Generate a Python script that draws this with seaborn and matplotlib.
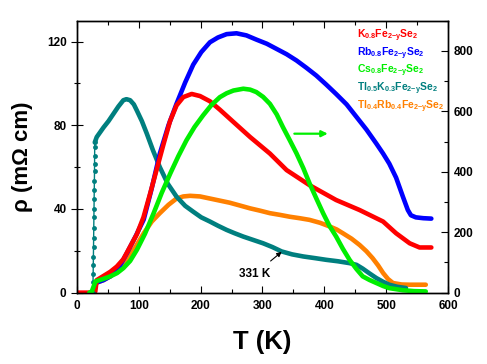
import matplotlib
matplotlib.use("Agg")
import numpy as np
import pandas as pd
import matplotlib.pyplot as plt
import seaborn as sns
from matplotlib.ticker import MultipleLocator

# values (left axis: mOhm cm, green Cs sample on right axis)
T_k = [0, 20, 29.6, 32, 43, 54, 64.5, 75, 86, 97, 107.5, 118, 129, 140, 150.5, 161, 172,
       185.5, 199, 215, 231, 253, 280, 312, 339, 376, 419, 457, 495, 516, 538, 554, 573]
rho_k = [0, 0, 0.5, 6, 8, 10, 12.5, 16, 22, 28, 36, 47, 59, 71, 82, 89.5, 93.5,
         95, 94, 91.5, 87.5, 81.6, 74.4, 66.5, 58.6, 51.4, 44.3, 39.5, 34, 28.4, 23.6,
         21.6, 21.6]

T_rb = [28, 30, 43, 54, 65, 81, 95, 108, 121, 134, 148, 161, 175, 188, 201, 215, 228,
        242, 258, 274, 290, 307, 323, 339, 355, 371, 387, 403, 419, 436, 452, 468, 484,
        495, 505, 516, 527, 535, 540, 548, 560, 573]
rho_rb = [0, 4.6, 6, 7.8, 10.5, 19, 27, 35, 50, 66.5, 80, 90.3, 100.5, 109, 115, 119.7,
          122, 123.6, 124, 123, 121, 119, 116.5, 114, 111, 107.5, 103.8, 99.5, 95, 90,
          84, 78, 71.3, 66.5, 61.7, 55, 45.9, 39.5, 37, 36, 35.6, 35.4]

T_cs = [20, 24, 30, 42, 54, 65, 75, 86, 97, 110, 124, 137, 151, 164, 177, 190, 204, 217,
        231, 242, 253, 269, 280, 290, 301, 312, 323, 333, 344, 355, 366, 376, 387, 398,
        408, 419, 430, 441, 452, 462, 473, 484, 495, 505, 527, 545, 564]
rho_cs = [0, 4, 37, 45, 54, 65, 81, 105, 142, 195, 263, 330, 395, 452, 504, 548, 587,
          620, 647, 660, 669, 675, 672, 664, 648, 625, 590, 548, 505, 461, 412, 362, 312,
          263, 222, 186, 145, 108, 78, 54, 42, 32, 22, 15, 8, 5, 4]

T_tlk_rise = [25.8, 26.0, 26.2, 26.4, 26.6, 26.8, 27.0, 27.2, 27.4, 27.6, 27.8, 28.0,
              28.2, 28.4, 28.5, 28.6, 28.7, 28.8]
rho_tlk_rise = [0, 5, 9, 13, 17, 21.6, 26, 31, 36, 40, 45, 49, 53.5, 58, 61.6, 65.5,
                69.4, 71.8]
T_tlk = [28.8, 32, 43, 51, 59, 67, 75, 80, 86, 92, 97, 105, 113, 123, 134, 147, 161, 175,
         188, 201, 215, 228, 242, 255, 269, 285, 301, 316, 331, 348, 366, 385, 403, 422,
         441, 452, 462, 473, 484, 495, 505, 518, 532]
rho_tlk = [71.8, 74.4, 79, 82, 85.5, 89, 92, 92.5, 92, 90, 87, 82, 76, 68, 60, 52, 45.9,
           41.5, 38.7, 36, 34, 32, 30, 28.4, 26.8, 25.2, 23.6, 21.8, 19.7, 18.3, 17.3,
           16.5, 15.7, 15, 14.1, 13.3, 11.5, 9.2, 7, 5.2, 3.8, 2.8, 2.2]

T_tlrb = [28, 30, 43, 54, 67, 81, 94, 108, 121, 134, 148, 161, 172, 183, 199, 215, 231,
          247, 263, 280, 296, 312, 328, 344, 360, 376, 393, 409, 420, 430, 444, 457, 468,
          478, 487, 495, 503, 511, 525, 538, 564]
rho_tlrb = [0, 4.6, 6, 7.8, 11, 15.7, 21.5, 28.4, 34, 38, 42, 45, 46, 46.3, 46, 45, 44,
            43, 41.7, 40.3, 39.2, 38, 37.2, 36.3, 35.6, 34.8, 33.4, 31.6, 30.2, 28.4,
            25.8, 22.8, 19.8, 16.5, 13, 9.4, 6.5, 4.6, 3.9, 3.8, 3.8]

labels = [r"K$_{0.8}$Fe$_{2{-}y}$Se$_{2}$",
          r"Rb$_{0.8}$Fe$_{2{-}y}$Se$_{2}$",
          r"Cs$_{0.8}$Fe$_{2{-}y}$Se$_{2}$",
          r"Tl$_{0.5}$K$_{0.3}$Fe$_{2{-}y}$Se$_{2}$",
          r"Tl$_{0.4}$Rb$_{0.4}$Fe$_{2{-}y}$Se$_{2}$"]
colors = ["#ff0000", "#0000ff", "#00ee00", "#007f7f", "#ff8000"]

sns.set_style("ticks")
plt.rcParams["font.family"] = ["Liberation Sans", "DejaVu Sans"]
plt.rcParams["font.weight"] = "bold"
plt.rcParams["mathtext.fontset"] = "custom"
plt.rcParams["mathtext.bf"] = "Liberation Sans:bold"
plt.rcParams["mathtext.rm"] = "Liberation Sans:bold"
plt.rcParams["mathtext.default"] = "bf"
for key in ["text.color", "axes.labelcolor", "xtick.color", "ytick.color",
            "axes.edgecolor"]:
    plt.rcParams[key] = "black"

left = pd.concat([
    pd.DataFrame({"T": T_k, "rho": rho_k, "sample": labels[0]}),
    pd.DataFrame({"T": T_rb, "rho": rho_rb, "sample": labels[1]}),
    pd.DataFrame({"T": T_tlk, "rho": rho_tlk, "sample": labels[3]}),
    pd.DataFrame({"T": T_tlrb, "rho": rho_tlrb, "sample": labels[4]}),
])
pal = {labels[i]: colors[i] for i in range(5)}

fig, ax = plt.subplots(figsize=(4.87, 3.64), dpi=100)
fig.subplots_adjust(left=0.158, right=0.920, bottom=0.196, top=0.943)
ax2 = ax.twinx()

# orange and teal underneath, red and blue on top
for lab in [labels[4], labels[3], labels[1], labels[0]]:
    sub = left[left["sample"] == lab]
    sns.lineplot(data=sub, x="T", y="rho", color=pal[lab], lw=3.3, sort=False,
                 estimator=None, ax=ax, label=lab)
sns.lineplot(x=T_tlk_rise, y=rho_tlk_rise, color=colors[3], lw=1.0, marker="o",
             markersize=3.5, markeredgewidth=0, sort=False, estimator=None, ax=ax,
             legend=False)
sns.lineplot(x=T_cs, y=rho_cs, color=colors[2], lw=3.3, sort=False, estimator=None,
             ax=ax2, label=labels[2])
for ln in ax.get_lines() + ax2.get_lines():
    ln.set_solid_joinstyle("round")
    ln.set_solid_capstyle("round")

ax.set_xlim(0, 600)
ax.set_ylim(0, 130)
ax2.set_ylim(0, 900)
ax.xaxis.set_major_locator(MultipleLocator(100))
ax.xaxis.set_minor_locator(MultipleLocator(50))
ax.yaxis.set_major_locator(MultipleLocator(40))
ax.yaxis.set_minor_locator(MultipleLocator(20))
ax2.yaxis.set_major_locator(MultipleLocator(200))
ax2.yaxis.set_minor_locator(MultipleLocator(100))
ax.tick_params(axis="x", which="both", direction="in", top=True, labelsize=8.5,
               width=0.8, pad=5)
ax.tick_params(axis="x", which="major", length=5)
ax.tick_params(axis="x", which="minor", length=3)
ax.tick_params(axis="y", which="both", direction="inout", labelsize=8.5, width=0.8)
ax.tick_params(axis="y", which="major", length=8)
ax.tick_params(axis="y", which="minor", length=5)
ax2.tick_params(axis="y", which="both", direction="in", labelsize=8.5, width=0.8, pad=4)
ax2.tick_params(axis="y", which="major", length=5)
ax2.tick_params(axis="y", which="minor", length=3)
for a in (ax, ax2):
    for s in a.spines.values():
        s.set_linewidth(1.0)
        s.set_color("black")

ax.set_xlabel("T (K)", fontsize=18.5, fontweight="bold", labelpad=13)
ax.set_ylabel("ρ (mΩ cm)", fontsize=16, fontweight="bold", labelpad=10)
ax2.set_ylabel("")

h1, l1 = ax.get_legend_handles_labels()
h2, l2 = ax2.get_legend_handles_labels()
hd = dict(zip(l1 + l2, h1 + h2))
if ax2.get_legend() is not None:
    ax2.get_legend().remove()
leg = ax.legend([hd[l] for l in labels], labels, loc="upper left",
                bbox_to_anchor=(0.755, 0.975), frameon=False, handlelength=0,
                handletextpad=0, borderpad=0, borderaxespad=0, labelspacing=0.12,
                fontsize=7.5, labelcolor="linecolor")
for h in leg.legend_handles:
    h.set_visible(False)

ax.annotate("", xy=(410, 76), xytext=(347, 76),
            arrowprops=dict(arrowstyle="-|>", color=colors[2], lw=1.6,
                            mutation_scale=9))
ax.annotate("331 K", xy=(331, 19.5), xytext=(288, 9), ha="center", va="center",
            fontsize=8.5, fontweight="bold",
            arrowprops=dict(arrowstyle="-|>", color="black", lw=0.8,
                            mutation_scale=7, shrinkA=4, shrinkB=0))

fig.savefig("out.png", dpi=100)
